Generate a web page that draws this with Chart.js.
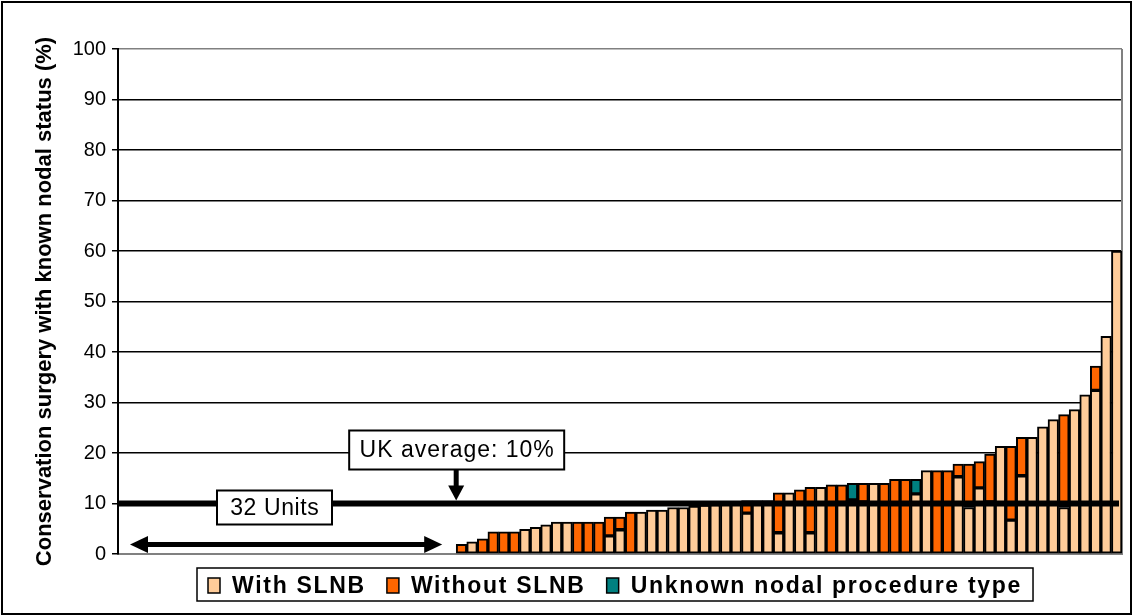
<!DOCTYPE html>
<html>
<head>
<meta charset="utf-8">
<script src="https://cdn.jsdelivr.net/npm/chart.js@4.4.1/dist/chart.umd.min.js"></script>
<style>
  html, body { margin: 0; padding: 0; background: #fff; }
  #wrap { position: relative; width: 1133px; height: 616px; }
</style>
</head>
<body>
<div id="wrap"><canvas id="chart" width="1133" height="616"></canvas></div>
<script>
// Units with no conservation surgery of known nodal status (no bar drawn)
const emptyUnits = 32;

// Per-unit percentages, units ordered by total, one entry per remaining unit
const withSLNB = [
  null, 2.4, null, null, null, null, 4.9, 5.3, 5.8, 6.3,
  6.3, null, null, null, 3.6, 4.8, null, 8.3, 8.7, 8.7,
  9.2, 9.2, 9.5, 9.7, 9.8, 9.9, 10.1, 8.1, 10.6, 10.6,
  4.2, 12.1, 10.2, 4.2, 13.2, null, 10.2, 10.7, 10.3, 14.0,
  null, null, null, 11.9, 16.5, null, null, 15.3, 9.2, 13.1,
  10.3, 21.3, 6.7, 15.5, 23.1, 25.2, 26.6, 9.2, 28.6, 31.5,
  32.4, 43.1, 60.0
];
const withoutSLNB = [
  1.9, null, 3.0, 4.4, 4.4, 4.4, null, null, null, null,
  null, 6.3, 6.3, 6.3, 3.7, 2.5, 8.3, null, null, null,
  null, null, null, null, null, null, null, 2.5, null, null,
  7.9, null, 2.5, 9.0, null, 13.7, 3.5, null, 3.7, null,
  14.0, 14.8, 14.8, null, null, 16.5, 16.5, 2.5, 8.6, 5.2,
  9.5, null, 14.6, 7.6, null, null, null, 18.4, null, null,
  4.8, null, null
];
const unknownType = [
  null, null, null, null, null, null, null, null, null, null,
  null, null, null, null, null, null, null, null, null, null,
  null, null, null, null, null, null, null, null, null, null,
  null, null, null, null, null, null, null, 3.3, null, null,
  null, null, null, 2.9, null, null, null, null, null, null,
  null, null, null, null, null, null, null, null, null, null,
  null, null, null
];

const seriesNames = ['With SLNB', 'Without SLNB', 'Unknown nodal procedure type'];
const seriesColors = ['#FFCC99', '#FF6600', '#008080'];
const yTicks = [0, 10, 20, 30, 40, 50, 60, 70, 80, 90, 100];
const ukAverage = 10;
const yTitle = 'Conservation surgery with known nodal status (%)';

const FONT = "'Liberation Sans', Arial, sans-serif";
const totalUnits = emptyUnits + withSLNB.length;
const unitLabels = Array.from({ length: totalUnits }, (_, i) => 'Unit ' + (i + 1));
const noBar = Array.from({ length: emptyUnits }, () => null);
const seriesData = [withSLNB, withoutSLNB, unknownType];

// White page plus the outer frame of the figure
const framePlugin = {
  id: 'frame',
  beforeDraw(chart) {
    const c = chart.ctx;
    c.save();
    c.fillStyle = '#fff';
    c.fillRect(0, 0, chart.width, chart.height);
    c.restore();
  },
  afterDraw(chart) {
    const c = chart.ctx;
    c.save();
    c.strokeStyle = '#000';
    c.lineWidth = 2;
    c.strokeRect(2, 2, chart.width - 4, chart.height - 4);
    c.restore();
  }
};

// Grey right edge of the plot area
const plotEdgePlugin = {
  id: 'plotEdge',
  beforeDatasetsDraw(chart) {
    const { ctx, chartArea: a } = chart;
    ctx.save();
    ctx.strokeStyle = '#808080';
    ctx.lineWidth = 2;
    ctx.beginPath();
    ctx.moveTo(a.right, a.top);
    ctx.lineTo(a.right, a.bottom);
    ctx.stroke();
    ctx.restore();
  }
};

function labelBox(ctx, x, y, w, h, text, spacing) {
  ctx.fillStyle = '#fff';
  ctx.fillRect(x, y, w, h);
  ctx.strokeStyle = '#000';
  ctx.lineWidth = 2;
  ctx.strokeRect(x, y, w, h);
  ctx.fillStyle = '#000';
  ctx.font = '23px ' + FONT;
  ctx.letterSpacing = spacing + 'px';
  ctx.textAlign = 'center';
  ctx.textBaseline = 'middle';
  ctx.fillText(text, x + w / 2 + spacing / 2, y + h / 2 + 1);
  ctx.letterSpacing = '0px';
}

function arrowHead(ctx, tipX, tipY, dirX, dirY, len, half) {
  const bx = tipX - dirX * len, by = tipY - dirY * len;
  ctx.beginPath();
  ctx.moveTo(tipX, tipY);
  ctx.lineTo(bx - dirY * half, by + dirX * half);
  ctx.lineTo(bx + dirY * half, by - dirX * half);
  ctx.closePath();
  ctx.fill();
}

// UK average line, its callout, and the bracket over the units without bars
const annotationPlugin = {
  id: 'annotations',
  afterDatasetsDraw(chart) {
    const { ctx, chartArea: a, scales: { x, y } } = chart;
    const yAvg = y.getPixelForValue(ukAverage);
    const xSplit = x.getPixelForValue(emptyUnits - 0.5);
    ctx.save();

    ctx.strokeStyle = '#000';
    ctx.lineWidth = 6;
    ctx.beginPath();
    ctx.moveTo(a.left, yAvg);
    ctx.lineTo(a.right - 3, yAvg);
    ctx.stroke();

    // down arrow from the callout to the average line
    const boxBottom = yAvg - 34;
    ctx.fillStyle = '#000';
    ctx.lineWidth = 5;
    ctx.beginPath();
    ctx.moveTo(xSplit, boxBottom);
    ctx.lineTo(xSplit, yAvg - 16);
    ctx.stroke();
    arrowHead(ctx, xSplit, yAvg - 3, 0, 1, 15, 8);
    labelBox(ctx, xSplit - 107, yAvg - 73, 215, 39, 'UK average: ' + ukAverage + '%', 1);

    // double-headed arrow spanning the units with no bar
    const yArrow = a.bottom - 9.5;
    const x0 = a.left + 12, x1 = xSplit - 14;
    ctx.fillStyle = '#000';
    ctx.lineWidth = 5;
    ctx.beginPath();
    ctx.moveTo(x0 + 14, yArrow);
    ctx.lineTo(x1 - 14, yArrow);
    ctx.stroke();
    arrowHead(ctx, x0, yArrow, -1, 0, 18, 8.5);
    arrowHead(ctx, x1, yArrow, 1, 0, 18, 8.5);
    labelBox(ctx, a.left + 99, yAvg - 13, 115, 34, emptyUnits + ' Units', 0.6);

    ctx.restore();
  }
};

// Boxed legend under the plot
const legendBoxPlugin = {
  id: 'legendBox',
  afterDraw(chart) {
    const { ctx, chartArea: a } = chart;
    ctx.save();
    ctx.font = 'bold 23px ' + FONT;
    ctx.letterSpacing = '1.7px';
    const sw = 12, sh = 15, gapIn = 12, gapOut = 21, padX = 11;
    const items = chart.data.datasets.map(ds => ({
      label: ds.label, color: ds.backgroundColor, w: ctx.measureText(ds.label).width
    }));
    let total = 0;
    items.forEach((it, i) => { total += sw + gapIn + it.w + (i < items.length - 1 ? gapOut : 0); });
    const boxW = total + padX * 2, boxH = 33;
    const cx = (a.left + a.right) / 2 - 5;
    const bx = Math.round(cx - boxW / 2), by = 568;
    ctx.fillStyle = '#fff';
    ctx.fillRect(bx, by, boxW, boxH);
    ctx.strokeStyle = '#000';
    ctx.lineWidth = 1.5;
    ctx.strokeRect(bx, by, boxW, boxH);
    let px = bx + padX;
    const base = by + 25;
    items.forEach(it => {
      ctx.fillStyle = it.color;
      ctx.fillRect(px, base - sh, sw, sh);
      ctx.strokeStyle = '#000';
      ctx.lineWidth = 1.5;
      ctx.strokeRect(px, base - sh, sw, sh);
      px += sw + gapIn;
      ctx.fillStyle = '#000';
      ctx.textAlign = 'left';
      ctx.textBaseline = 'alphabetic';
      ctx.fillText(it.label, px, base);
      px += it.w + gapOut;
    });
    ctx.restore();
  }
};

new Chart(document.getElementById('chart'), {
  type: 'bar',
  data: {
    labels: unitLabels,
    datasets: seriesNames.map((name, i) => ({
      label: name,
      data: noBar.concat(seriesData[i]),
      backgroundColor: seriesColors[i],
      borderColor: '#000',
      borderWidth: 2,
      borderSkipped: false,
      barPercentage: 1,
      categoryPercentage: 1
    }))
  },
  options: {
    responsive: false,
    animation: false,
    layout: { padding: { left: 0, right: 11, top: 49, bottom: 62 } },
    plugins: {
      legend: { display: false },
      tooltip: { enabled: false }
    },
    scales: {
      x: {
        stacked: true,
        grid: { display: false, drawTicks: false },
        ticks: { display: false },
        border: { color: '#808080', width: 2 }
      },
      y: {
        stacked: true,
        min: 0,
        max: 100,
        afterBuildTicks(scale) { scale.ticks = yTicks.map(v => ({ value: v })); },
        afterFit(scale) { scale.width = 118; },
        ticks: {
          color: '#000',
          padding: 6,
          font: { family: FONT, size: 20 }
        },
        grid: {
          color: ctx => ctx.tick.value === 100 ? '#808080' : (ctx.tick.value === 0 ? 'rgba(0,0,0,0)' : '#000'),
          lineWidth: 1.5,
          tickLength: 6,
          tickColor: '#000',
          tickWidth: 1.5
        },
        border: { color: '#000', width: 2 },
        title: {
          display: true,
          text: yTitle,
          color: '#000',
          font: { family: FONT, size: 22, weight: 'bold' },
          padding: { top: 32, bottom: 0 }
        }
      }
    }
  },
  plugins: [framePlugin, plotEdgePlugin, annotationPlugin, legendBoxPlugin]
});
</script>
</body>
</html>
